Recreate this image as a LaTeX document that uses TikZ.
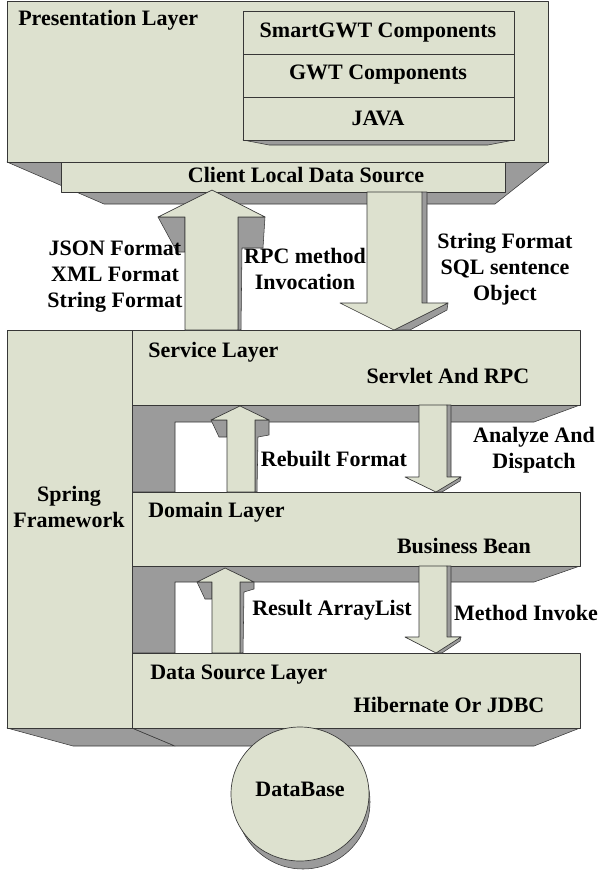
\documentclass[tikz,border=0pt]{standalone}
\usepackage{fontspec}
\setmainfont{Liberation Serif}
\definecolor{layerfill}{RGB}{221,225,207}
\definecolor{sidefill}{RGB}{155,155,155}
\definecolor{edgeline}{RGB}{55,55,55}
\tikzset{
  face/.style={fill=layerfill,draw=edgeline,line width=0.5pt},
  side/.style={fill=sidefill,draw=edgeline,line width=0.4pt},
  lbl/.style={font=\fontsize{16.5}{19.5}\selectfont\bfseries,inner sep=0pt,align=center},
}
\begin{document}
\begin{tikzpicture}[x=0.75pt,y=-0.75pt,line join=round]
  \useasboundingbox (0,0) rectangle (599,885);
  % presentation layer
  \draw[side] (7,162) -- (548,162) -- (495,204) -- (104,204) -- cycle;
  \draw[face] (7,1) rectangle (548,162);
  \draw[side] (243,140) -- (514,140) -- (488,145) -- (269,145) -- cycle;
  \draw[face] (243,11) rectangle (514,54);
  \draw[face] (243,54) rectangle (514,97);
  \draw[face] (243,97) rectangle (514,140);
  \draw[face] (61,162) rectangle (505,192);
  \node[lbl,anchor=west] (pres) at (18,20) {Presentation Layer};
  \node[lbl] (smart) at (378,33) {SmartGWT Components};
  \node[lbl] (gwt) at (378,75) {GWT Components};
  \node[lbl] (java) at (378,118) {JAVA};
  \node[lbl] (client) at (306,175) {Client Local Data Source};

  % spring column and server layers
  \draw[side] (7,728) -- (73,746) -- (175,746) -- (132,728) -- cycle;
  \draw[side] (132,405) -- (580,405) -- (534,422) -- (175,422) -- (175,492) -- (132,492) -- cycle;
  \draw[side] (132,566) -- (580,566) -- (534,582) -- (175,582) -- (175,653) -- (132,653) -- cycle;
  \draw[side] (132,728) -- (580,728) -- (534,746) -- (175,746) -- cycle;
  \draw[face] (7,330) rectangle (132,728);
  \draw[face] (132,330) rectangle (580,405);
  \draw[face] (132,492) rectangle (580,566);
  \draw[face] (132,653) rectangle (580,728);
  \node[lbl] (spring) at (69,507) {Spring\\Framework};
  \node[lbl,anchor=west] (service) at (148,352) {Service Layer};
  \node[lbl] (servlet) at (448,376) {Servlet And RPC};
  \node[lbl,anchor=west] (domain) at (148,512) {Domain Layer};
  \node[lbl] (bean) at (464,546) {Business Bean};
  \node[lbl,anchor=west] (datasrc) at (150,675) {Data Source Layer};
  \node[lbl] (hib) at (449,705) {Hibernate Or JDBC};

  % block arrows
  \draw[side] (158,217) -- (185,217) -- (185,252) -- (177,252) -- cycle;
  \draw[side] (238,217) -- (265,217) -- (263,248) -- (242,248) -- (241,330) -- (238,330) -- cycle;
  \draw[face] (212,190) -- (265,217) -- (238,217) -- (238,330) -- (185,330) -- (185,217) -- (158,217) -- cycle;

  \draw[side] (422,192) -- (427,192) -- (427,304) -- (448,303) -- (447,310) -- (410,330) -- (394,330) -- cycle;
  \draw[face] (367,192) -- (422,192) -- (422,303) -- (448,303) -- (394,330) -- (340,303) -- (367,303) -- cycle;

  \draw[side] (211,420) -- (227,420) -- (227,437) -- (219,437) -- cycle;
  \draw[side] (255,420) -- (269,420) -- (269,435) -- (258,437) -- (257,492) -- (255,492) -- cycle;
  \draw[face] (240,406) -- (269,420) -- (255,420) -- (255,492) -- (227,492) -- (227,420) -- (211,420) -- cycle;

  \draw[side] (447,405) -- (451,405) -- (451,477) -- (461,477) -- (460,481) -- (442,492) -- (436,492) -- cycle;
  \draw[face] (419,405) -- (447,405) -- (447,477) -- (461,477) -- (436,492) -- (405,477) -- (419,477) -- cycle;

  \draw[side] (197,582) -- (212,582) -- (212,599) -- (205,599) -- cycle;
  \draw[side] (240,582) -- (254,582) -- (254,589) -- (244,592) -- (243,653) -- (240,653) -- cycle;
  \draw[face] (225,568) -- (254,582) -- (240,582) -- (240,653) -- (212,653) -- (212,582) -- (197,582) -- cycle;

  \draw[side] (447,566) -- (451,566) -- (451,637) -- (461,637) -- (460,641) -- (442,653) -- (436,653) -- cycle;
  \draw[face] (419,566) -- (447,566) -- (447,637) -- (461,637) -- (436,653) -- (405,637) -- (419,637) -- cycle;

  \node[lbl] (json) at (115,277) {JSON Format\\XML Format\\String Format};
  \node[lbl] (rpc) at (305,269) {RPC method\\Invocation};
  \node[lbl] (strfmt) at (505,269) {String Format\\SQL sentence\\Object};
  \node[lbl] (rebuilt) at (334,459) {Rebuilt Format};
  \node[lbl] (analyze) at (534,450) {Analyze And\\Dispatch};
  \node[lbl] (result) at (332,610) {Result ArrayList};
  \node[lbl] (invoke) at (526,613) {Method Invoke};

  % database
  \draw[side] (303,802) ellipse [x radius=67,y radius=67];
  \draw[face] (300,794) ellipse [x radius=69,y radius=67];
  \node[lbl] (db) at (300,789) {DataBase};
\end{tikzpicture}
\end{document}
